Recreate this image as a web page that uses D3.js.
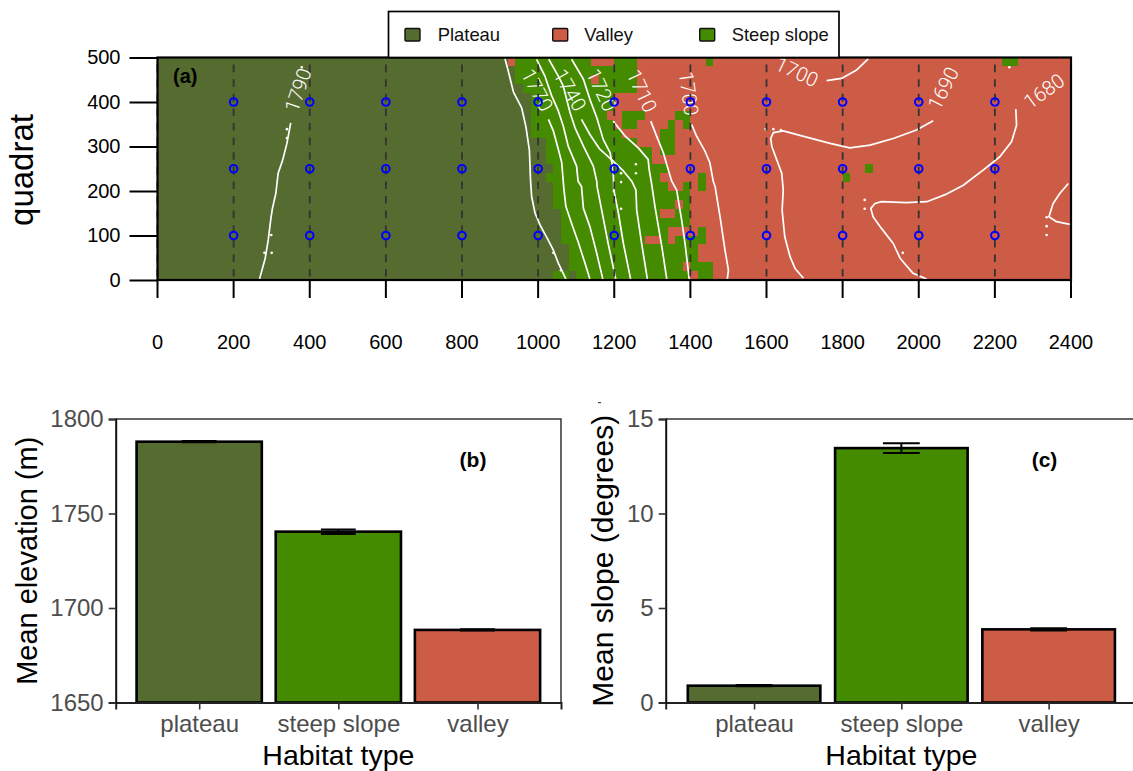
<!DOCTYPE html>
<html>
<head>
<meta charset="utf-8">
<script src="https://cdn.jsdelivr.net/npm/d3@7"></script>
<style>
  html, body { margin: 0; padding: 0; background: #fff; overflow: hidden; }
  svg { display: block; font-family: "Liberation Sans", Arial, sans-serif; }
</style>
</head>
<body>
<script>
/* DATA */

//Habitat map, 20 m cells, top row (480-500) first. P = plateau, V = valley, S = steep slope. Last run fills the row.
const habitatRows = [
  "P46 V1 S10 V3 S3 V9 S1 V38 S2 V",
  "P47 S16 V",
  "P47 S10 V1 S5 V",
  "P48 S15 V",
  "P49 S11 V",
  "P49 S11 V",
  "P49 S10 V2 S3 V4 S2 V",
  "P49 S11 V1 S2 V4 S1 V1 S1 V",
  "P49 S12 V5 S2 V",
  "P51 S12 V3 S2 V",
  "P51 S14 V1 S2 V",
  "P51 S14 V",
  "P52 S15 V26 S1 V",
  "P51 S15 V5 S1 V18 S1 V",
  "P52 S15 V2 S1 V1 S1 V",
  "P52 S18 V",
  "P52 S16 V1 S1 V",
  "P53 S13 V2 S2 V",
  "P53 S17 V",
  "P53 S14 V4 S1 V",
  "P53 S11 V2 S1 V1 S4 V",
  "P54 S17 V",
  "P54 S17 V",
  "P54 S15 V1 S3 V",
  "P52 S2 P1 S15 V1 S2 V"
];

//Elevation contours in plot units (metres along x, metres along y).
const contour1790 = [[268,2],[283,49],[291,90],[298,139],[302,161],[311,195],[317,240],[329,270],[340,307],[350,353]];
const contour1780 = [[913,497],[922,468],[935,423],[957,386],[968,344],[977,292],[980,225],[983,187],[992,150],[1005,124],[1022,97],[1040,67],[1053,38],[1073,2]];
const contour1770 = [[1027,361],[1040,335],[1053,294],[1062,264],[1066,222],[1068,202],[1073,165],[1088,127],[1105,86],[1123,38],[1136,2]];
const contour1760 = [[996,496],[1018,458],[1036,413],[1053,380],[1066,346],[1079,301],[1101,256],[1105,222],[1114,210],[1119,161],[1136,120],[1154,60],[1170,2]];
const contour1750 = [[1028,496],[1053,458],[1066,436],[1084,376],[1097,342],[1119,301],[1145,256],[1154,222],[1155,210],[1167,157],[1184,82],[1204,2]];
const contour1740 = [[1088,496],[1119,451],[1136,406],[1154,365],[1171,316],[1189,286],[1197,249],[1199,202],[1211,150],[1224,82],[1243,2]];
const contour1730 = [[1114,361],[1136,327],[1162,294],[1197,267],[1224,245],[1246,222],[1257,202],[1259,157],[1272,82],[1287,2]];
const contour1720 = [[1197,357],[1228,324],[1263,297],[1289,271],[1292,247],[1298,217],[1307,165],[1325,75],[1338,2]];
const contour1710 = [[1296,357],[1311,324],[1329,286],[1339,256],[1351,222],[1364,202],[1377,135],[1386,82],[1397,2]];
const contour1700a = [[1403,350],[1416,324],[1438,290],[1451,264],[1460,222],[1465,210],[1478,142],[1491,67],[1500,22],[1497,2]];
const contour1700b = [[1758,448],[1797,453],[1837,472],[1867,497]];
const contour1690 = [[2038,358],[1994,337],[1933,318],[1872,303],[1819,297],[1767,307],[1705,321],[1644,335],[1618,331],[1611,318],[1614,300],[1627,270],[1640,240],[1644,202],[1641,157],[1648,97],[1662,52],[1675,26],[1697,4]];
const contour1680 = [[2255,384],[2257,348],[2244,311],[2213,277],[2169,247],[2117,213],[2073,193],[2021,176],[1968,174],[1902,176],[1885,172],[1874,161],[1880,142],[1902,116],[1933,82],[1951,49],[1985,15],[2021,2]];
const contour1670 = [[2393,217],[2371,195],[2353,172],[2342,142],[2362,131],[2397,125]];
const contours = [contour1790, contour1780, contour1770, contour1760, contour1750, contour1740, contour1730, contour1720, contour1710, contour1700a, contour1700b, contour1690, contour1680, contour1670];

//Small closed contours that show up as dots.
const contourDots = [[379,478],[340,339],[340,319],[299,101],[281,61],[300,61],[1218,240],[1218,220],[1199,200],[1218,160],[1257,240],[1040,61],[1060,22],[1257,260],[1618,339],[1598,339],[1638,337],[2238,478],[1858,180],[1858,160],[2336,141],[2336,121],[2336,101],[1958,61]];

const contourLabelText = ["1790","1770","1740","1720","1710","1700","1700","1690","1680"];
const contourLabelX = [369,998,1084,1167,1273,1396,1680,2064,2329];
const contourLabelY = [427,427,427,427,425,419,468,431,425];
const contourLabelAngle = [-71,62,60,65,65,82,25,-63,-36];

const stationX = [200,400,600,800,1000,1200,1400,1600,1800,2000,2200];
const stationY = [100,250,400];
const transectX = [0,200,400,600,800,1000,1200,1400,1600,1800,2000,2200,2400];

const mapXTicks = [0,200,400,600,800,1000,1200,1400,1600,1800,2000,2200,2400];
const mapYTicks = [0,100,200,300,400,500];

const legendLabels = ["Plateau","Valley","Steep slope"];

const barCategories = ["plateau","steep slope","valley"];
const elevationMeans = [1788,1740.4,1688.4];
const elevationErrors = [0.3,1.2,0.3];
const elevationTicks = [1650,1700,1750,1800];
const slopeMeans = [0.89,13.46,3.87];
const slopeErrors = [0.03,0.26,0.06];
const slopeTicks = [0,5,10,15];

/* CONSTANTS */

const width = 1133;
const height = 771;
const plateauColor = "#556B2F";
const valleyColor = "#CD5C46";
const steepColor = "#458B00";
const habitatColor = {P: plateauColor, V: valleyColor, S: steepColor};
const barColors = [plateauColor, steepColor, valleyColor];
const legendColors = [plateauColor, valleyColor, steepColor];

const svg = d3.select("body").append("svg")
  .attr("width", width)
  .attr("height", height);

/* PANEL A */

const mapX = d3.scaleLinear().domain([0, 2400]).range([157.5, 1071]);
const mapY = d3.scaleLinear().domain([0, 500]).range([280, 57.5]);
const cellSize = 20;

//Turn "P46 V1 ..." into one object per run.
const habitatCells = [];
habitatRows.forEach((row, i) => {
  let col = 0;
  row.split(" ").forEach((run) => {
    const n = run.length > 1 ? +run.slice(1) : 120 - col;
    habitatCells.push({kind: run[0], col: col, n: n, row: habitatRows.length - 1 - i});
    col += n;
  });
});

svg.append("g").selectAll("rect")
  .data(habitatCells)
  .enter()
  .append("rect")
  .attr("x", (d) => mapX(d.col * cellSize))
  .attr("y", (d) => mapY((d.row + 1) * cellSize))
  .attr("width", (d) => mapX(d.n * cellSize) - mapX(0))
  .attr("height", mapY(0) - mapY(cellSize))
  .attr("fill", (d) => habitatColor[d.kind])
  .attr("shape-rendering", "crispEdges");

const contourLine = d3.line().x((d) => mapX(d[0])).y((d) => mapY(d[1]));

svg.append("g").selectAll("path")
  .data(contours)
  .enter()
  .append("path")
  .attr("d", contourLine)
  .attr("fill", "none")
  .attr("stroke", "#fff")
  .attr("stroke-width", 1.7)
  .attr("stroke-linejoin", "round");

svg.append("g").selectAll("circle")
  .data(contourDots)
  .enter()
  .append("circle")
  .attr("cx", (d) => mapX(d[0]))
  .attr("cy", (d) => mapY(d[1]))
  .attr("r", 1.3)
  .attr("fill", "#fff");

svg.append("g").selectAll("text")
  .data(contourLabelText)
  .enter()
  .append("text")
  .attr("transform", (d, i) => `translate(${mapX(contourLabelX[i])},${mapY(contourLabelY[i])}) rotate(${contourLabelAngle[i]})`)
  .attr("text-anchor", "middle")
  .attr("dy", "0.36em")
  .attr("fill", "#fff")
  .style("font-family", "Roboto")
  .style("font-weight", 300)
  .style("font-size", "20px")
  .text((d) => d);

//Dashed transects, then sampling stations on top.
svg.append("g").selectAll("line")
  .data(transectX)
  .enter()
  .append("line")
  .attr("x1", (d) => mapX(d))
  .attr("x2", (d) => mapX(d))
  .attr("y1", mapY(484))
  .attr("y2", mapY(0))
  .attr("stroke", "#333")
  .attr("stroke-width", 1.8)
  .attr("stroke-dasharray", "7.6 7");

const stations = d3.cross(stationX, stationY);
svg.append("g").selectAll("circle")
  .data(stations)
  .enter()
  .append("circle")
  .attr("cx", (d) => mapX(d[0]))
  .attr("cy", (d) => mapY(d[1]))
  .attr("r", 3.8)
  .attr("fill", "none")
  .attr("stroke", "#0000ff")
  .attr("stroke-width", 2);

svg.append("rect")
  .attr("x", mapX(0))
  .attr("y", mapY(500))
  .attr("width", mapX(2400) - mapX(0))
  .attr("height", mapY(0) - mapY(500))
  .attr("fill", "none")
  .attr("stroke", "#000")
  .attr("stroke-width", 2.2);

const mapXAxis = d3.axisBottom(mapX).tickValues(mapXTicks).tickFormat(d3.format("d")).tickSize(18).tickPadding(37);
const mapYAxis = d3.axisLeft(mapY).tickValues(mapYTicks).tickSize(28).tickPadding(9);

const mapXAxisG = svg.append("g").attr("transform", `translate(-0.5,${mapY(0)})`).call(mapXAxis);
const mapYAxisG = svg.append("g").attr("transform", `translate(${mapX(0)},0)`).call(mapYAxis);
[mapXAxisG, mapYAxisG].forEach((g) => {
  g.select(".domain").remove();
  g.selectAll(".tick line").attr("stroke", "#000").attr("stroke-width", 2);
  g.selectAll(".tick text").attr("fill", "#000").style("font-size", "20px").style("font-family", "Liberation Sans");
});

svg.append("text")
  .attr("transform", `translate(33,170) rotate(-90)`)
  .attr("text-anchor", "middle")
  .style("font-size", "33px")
  .text("quadrat");

svg.append("text")
  .attr("x", 173)
  .attr("y", 83)
  .style("font-size", "20px")
  .style("font-weight", "bold")
  .text("(a)");

/* LEGEND */

const legendKeyX = [405, 552.7, 699.7];
const legendTextX = [437.7, 584.3, 731.7];

svg.append("rect")
  .attr("x", 388.5)
  .attr("y", 11.5)
  .attr("width", 450.5)
  .attr("height", 46)
  .attr("fill", "#fff")
  .attr("stroke", "#000")
  .attr("stroke-width", 1.7);

const legend = svg.append("g");
legend.selectAll("rect")
  .data(legendLabels)
  .enter()
  .append("rect")
  .attr("x", (d, i) => legendKeyX[i])
  .attr("y", 28.5)
  .attr("width", 15)
  .attr("height", 12.5)
  .attr("rx", 1)
  .attr("fill", (d, i) => legendColors[i])
  .attr("stroke", "#111")
  .attr("stroke-width", 1.4);

legend.selectAll("text")
  .data(legendLabels)
  .enter()
  .append("text")
  .attr("x", (d, i) => legendTextX[i])
  .attr("y", 41)
  .attr("fill", "#111")
  .style("font-size", "18.4px")
  .text((d) => d);

/* PANELS B AND C */

function drawBars(opts) {
  const top = 419, bottom = 702.5;
  const x = d3.scalePoint().domain(barCategories).range([opts.left, opts.right]).padding(0.6);
  const y = d3.scaleLinear().domain(opts.domain).range([bottom, top]);
  const barWidth = x.step() * 0.9;
  const capWidth = x.step() * 0.25;
  const g = svg.append("g");

  g.selectAll("rect")
    .data(barCategories)
    .enter()
    .append("rect")
    .attr("x", (d) => x(d) - barWidth / 2)
    .attr("y", (d, i) => y(opts.means[i]))
    .attr("width", barWidth)
    .attr("height", (d, i) => bottom - y(opts.means[i]))
    .attr("fill", (d, i) => barColors[i])
    .attr("stroke", "#000")
    .attr("stroke-width", 2.6);

  //Error bars: stem and two caps.
  const errPath = (d, i) => {
    const hi = y(opts.means[i] + opts.errors[i]);
    const lo = y(opts.means[i] - opts.errors[i]);
    const cx = x(d);
    return `M${cx - capWidth / 2},${hi}H${cx + capWidth / 2}M${cx},${hi}V${lo}M${cx - capWidth / 2},${lo}H${cx + capWidth / 2}`;
  };
  g.selectAll("path.err")
    .data(barCategories)
    .enter()
    .append("path")
    .attr("class", "err")
    .attr("d", errPath)
    .attr("fill", "none")
    .attr("stroke", "#000")
    .attr("stroke-width", 2);

  //Thin top and right border, heavy left and bottom.
  g.append("path")
    .attr("d", `M${opts.left},${top}H${opts.right}V${bottom}`)
    .attr("fill", "none")
    .attr("stroke", "#333")
    .attr("stroke-width", 1.5);

  const xAxis = d3.axisBottom(x).tickSize(7).tickPadding(5);
  const yAxis = d3.axisLeft(y).tickValues(opts.ticks).tickFormat(d3.format("d")).tickSize(7).tickPadding(5);
  const xG = g.append("g").attr("transform", `translate(0,${bottom})`).call(xAxis);
  const yG = g.append("g").attr("transform", `translate(${opts.left},0)`).call(yAxis);
  [xG, yG].forEach((a) => {
    a.select(".domain").attr("stroke", "#111").attr("stroke-width", 2);
    a.selectAll(".tick line").attr("stroke", "#333").attr("stroke-width", 1.6);
    a.selectAll(".tick text").attr("fill", "#4d4d4d").style("font-size", "24px").style("font-family", "Liberation Sans");
  });
  xG.select(".domain").attr("stroke", "#222");

  g.append("text")
    .attr("x", (opts.left + opts.left + 3.2 * x.step()) / 2)
    .attr("y", 765)
    .attr("text-anchor", "middle")
    .style("font-size", "28.5px")
    .text("Habitat type");

  g.append("text")
    .attr("transform", `translate(${opts.titleX},${(top + bottom) / 2}) rotate(-90)`)
    .attr("text-anchor", "middle")
    .style("font-size", opts.titleSize)
    .text(opts.ylabel);

  g.append("text")
    .attr("x", opts.tagX)
    .attr("y", 467)
    .attr("text-anchor", "middle")
    .style("font-size", "21px")
    .style("font-weight", "bold")
    .text(opts.tag);
}

drawBars({left: 115.7, right: 561, domain: [1650, 1800], ticks: elevationTicks, means: elevationMeans, errors: elevationErrors, ylabel: "Mean elevation (m)", titleX: 37, titleSize: "29px", tag: "(b)", tagX: 473});
drawBars({left: 665.7, right: 1137, domain: [0, 15], ticks: slopeTicks, means: slopeMeans, errors: slopeErrors, ylabel: "Mean slope (degrees)", titleX: 613, titleSize: "30px", tag: "(c)", tagX: 1044.5});

//Small stray mark above panel (c)'s axis title.
svg.append("line")
  .attr("x1", 598)
  .attr("x2", 601)
  .attr("y1", 402.7)
  .attr("y2", 402.7)
  .attr("stroke", "#222")
  .attr("stroke-width", 1);
</script>
</body>
</html>
